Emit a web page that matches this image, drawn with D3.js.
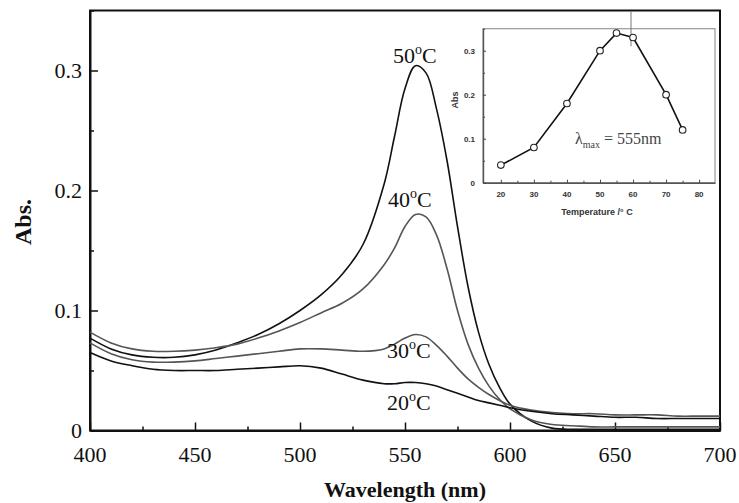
<!DOCTYPE html>
<html><head><meta charset="utf-8">
<script src="https://cdn.jsdelivr.net/npm/d3@7"></script>
<style>body{margin:0;background:#fff}svg{display:block}</style></head>
<body>
<script>
// ---- main spectra data ----
const wavelengths = [400,410,420,430,440,450,460,470,480,490,500,510,520,530,540,545,550,555,560,565,570,575,580,585,590,595,600,610,620,630,640,650,660,670,680,690,700];
const abs50 = [.077,.068,.063,.061,.061,.063,.067,.073,.080,.089,.100,.113,.130,.155,.205,.245,.285,.304,.298,.268,.225,.170,.120,.082,.055,.036,.022,.008,.002,.001,.001,.001,.001,.001,.001,.001,.001];
const abs40 = [.082,.073,.068,.066,.066,.067,.069,.072,.077,.083,.090,.098,.106,.118,.138,.152,.170,.180,.178,.163,.135,.100,.072,.052,.037,.026,.018,.009,.005,.004,.003,.003,.003,.003,.003,.003,.003];
const abs30 = [.073,.064,.059,.057,.057,.058,.060,.062,.064,.066,.068,.068,.067,.066,.068,.072,.077,.080,.078,.071,.062,.052,.043,.036,.030,.025,.021,.017,.015,.014,.014,.013,.013,.013,.012,.012,.012];
const abs20 = [.065,.058,.054,.051,.050,.050,.050,.051,.052,.053,.054,.052,.047,.042,.039,.039,.040,.040,.039,.037,.034,.031,.028,.025,.023,.021,.019,.016,.014,.013,.012,.011,.011,.010,.010,.010,.010];
const seriesNames = ["50","40","30","20"];
const xTicks = [400,450,500,550,600,650,700];
const yTicks = [0,0.1,0.2,0.3];
const yTickLabels = ["0","0.1","0.2","0.3"];
// ---- inset data ----
const temps = [20,30,40,50,55,60,70,75];
const absMax = [0.04,0.08,0.18,0.30,0.34,0.33,0.20,0.12];
const insetXTicks = [20,30,40,50,60,70,80];
const insetYTicks = [0,0.1,0.2,0.3];
const insetYTickLabels = ["0","0.1","0.2","0.3"];

const W = 739, H = 503;
const svg = d3.select("body").append("svg").attr("width", W).attr("height", H);

const x = d3.scaleLinear().domain([400,700]).range([90,720]);
const y = d3.scaleLinear().domain([0,0.35]).range([430.5,10.5]);

const serif = "'Liberation Serif','Times New Roman',serif";
const sans = "'Liberation Sans',Arial,sans-serif";

// frame
svg.append("rect").attr("x",90).attr("y",10.5).attr("width",630).attr("height",420)
  .attr("fill","none").attr("stroke","#111").attr("stroke-width",2);

// axes
const xAxis = d3.axisBottom(x).tickValues(d3.range(400,701,25)).tickSizeInner(-4).tickSizeOuter(0).tickFormat("");
const gx = svg.append("g").attr("transform","translate(0,430.5)").call(xAxis);
gx.selectAll(".tick line").attr("y2", d => d % 50 === 0 ? -8 : -4).attr("stroke","#111").attr("stroke-width",1.5);
gx.select(".domain").attr("stroke","#111").attr("stroke-width",2);
svg.append("g").selectAll("text").data(xTicks).join("text")
  .attr("x", d => x(d)).attr("y", 462).attr("text-anchor","middle")
  .attr("font-family", serif).attr("font-size", 22).attr("fill","#111").text(d => d);

const yAxis = d3.axisLeft(y).tickValues(d3.range(0,0.351,0.05)).tickSizeOuter(0).tickFormat("");
const gy = svg.append("g").attr("transform","translate(90,0)").call(yAxis);
gy.selectAll(".tick line").attr("x2", (d) => Math.abs(d*10 - Math.round(d*10)) < 1e-6 ? 8 : 4).attr("stroke","#111").attr("stroke-width",1.5);
gy.select(".domain").attr("stroke","#111").attr("stroke-width",2);
svg.append("g").selectAll("text").data(yTicks).join("text")
  .attr("x", 82).attr("y", d => y(d) + 7).attr("text-anchor","end")
  .attr("font-family", serif).attr("font-size", 22).attr("fill","#111").text((d,i) => yTickLabels[i]);

// axis titles
svg.append("text").attr("x",405).attr("y",497).attr("text-anchor","middle")
  .attr("font-family",serif).attr("font-weight","bold").attr("font-size",22).attr("fill","#111").text("Wavelength (nm)");
svg.append("text").attr("transform","translate(31,222) rotate(-90)").attr("text-anchor","middle")
  .attr("font-family",serif).attr("font-weight","bold").attr("font-size",24).attr("fill","#111").text("Abs.");

// curves
const line = d3.line().x(d => x(d[0])).y(d => y(d[1])).curve(d3.curveCatmullRom.alpha(0.5));
const series = [abs50, abs40, abs30, abs20];
const colors = ["#111","#555","#555","#111"];
series.forEach((vals, i) => {
  svg.append("path").datum(wavelengths.map((w,j) => [w, vals[j]]))
    .attr("d", line).attr("fill","none").attr("stroke", colors[i]).attr("stroke-width",1.6);
});

// curve labels
const labelPos = [[393,63],[388,207],[387,358],[387,410]];
seriesNames.forEach((n,i) => {
  const t = svg.append("text").attr("x",labelPos[i][0]).attr("y",labelPos[i][1])
    .attr("font-family",serif).attr("font-size",22).attr("fill","#111");
  t.append("tspan").text(n);
  t.append("tspan").attr("font-size",14).attr("dy",-9).text("o");
  t.append("tspan").attr("dy",9).text("C");
});

// ---- inset ----
const ix = d3.scaleLinear().domain([14.6,84.8]).range([483,715]);
const iy = d3.scaleLinear().domain([0,0.35]).range([182.7,28.7]);
svg.append("rect").attr("x",483).attr("y",28.7).attr("width",232).attr("height",154)
  .attr("fill","#fff").attr("stroke","#999").attr("stroke-width",1.2);
const gix = svg.append("g").attr("transform","translate(0,182.7)")
  .call(d3.axisBottom(ix).tickValues(d3.range(20,81,5)).tickSizeOuter(0).tickFormat(""));
gix.selectAll(".tick line").attr("y2", d => d % 10 === 0 ? -3 : -2).attr("stroke","#444");
gix.select(".domain").attr("stroke","#555").attr("stroke-width",1.4);
svg.append("g").selectAll("text").data(insetXTicks).join("text")
  .attr("x", d => ix(d)).attr("y", 197).attr("text-anchor","middle")
  .attr("font-family",sans).attr("font-weight","bold").attr("font-size",8).attr("fill","#333").text(d => d);
const giy = svg.append("g").attr("transform","translate(483,0)")
  .call(d3.axisLeft(iy).tickValues(d3.range(0,0.351,0.05)).tickSizeOuter(0).tickFormat(""));
giy.selectAll(".tick line").attr("x2", d => Math.abs(d*10 - Math.round(d*10)) < 1e-6 ? 3 : 2).attr("stroke","#444");
giy.select(".domain").attr("stroke","#555").attr("stroke-width",1.4);
svg.append("g").selectAll("text").data(insetYTicks).join("text")
  .attr("x", 475).attr("y", d => iy(d) + 3).attr("text-anchor","end")
  .attr("font-family",sans).attr("font-weight","bold").attr("font-size",8).attr("fill","#333").text((d,i) => insetYTickLabels[i]);
svg.append("text").attr("transform","translate(458,100) rotate(-90)").attr("text-anchor","middle")
  .attr("font-family",sans).attr("font-weight","bold").attr("font-size",9).attr("fill","#333").text("Abs");
svg.append("text").attr("x",597).attr("y",215).attr("text-anchor","middle")
  .attr("font-family",sans).attr("font-weight","bold").attr("font-size",9).attr("fill","#333").text("Temperature /° C");

// stray vertical mark
svg.append("line").attr("x1",631).attr("x2",631).attr("y1",11).attr("y2",iy(0.31)).attr("stroke","#777").attr("stroke-width",1);

const iline = d3.line().x(d => ix(d[0])).y(d => iy(d[1]));
svg.append("path").datum(temps.map((t,i) => [t, absMax[i]])).attr("d", iline)
  .attr("fill","none").attr("stroke","#111").attr("stroke-width",1.6);
svg.append("g").selectAll("circle").data(temps.map((t,i) => [t, absMax[i]])).join("circle")
  .attr("cx", d => ix(d[0])).attr("cy", d => iy(d[1])).attr("r",3.3)
  .attr("fill","#fff").attr("stroke","#222").attr("stroke-width",1.1);

const lt = svg.append("text").attr("x",575).attr("y",144).attr("font-family",serif).attr("font-size",16).attr("fill","#444");
lt.append("tspan").text("λ");
lt.append("tspan").attr("font-size",10).attr("dy",4).text("max");
lt.append("tspan").attr("dy",-4).text(" = 555nm");
</script>
</body></html>
